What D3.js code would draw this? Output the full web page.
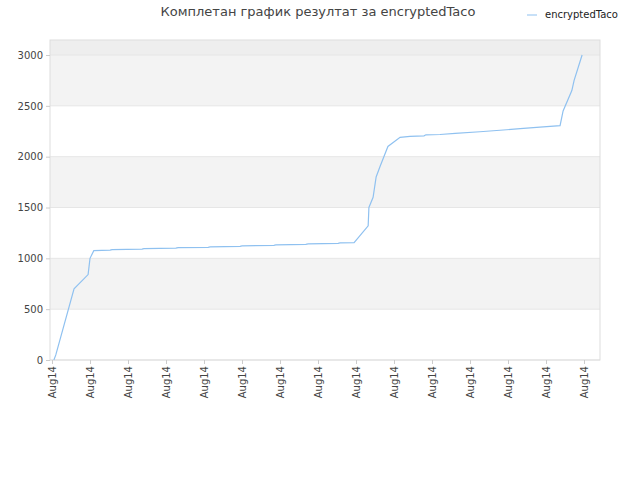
<!DOCTYPE html><html><head><meta charset="utf-8"><script src="https://d3js.org/d3.v7.min.js"></script>
<style>body{margin:0;background:#fff}</style></head><body><script>
const title="Комплетан график резултат за encryptedTaco";
const seriesName="encryptedTaco";
const tickLabels=Array(15).fill("Aug14");
const xs=[0.05,0.1,0.58,0.95,1.0,1.1,1.53,1.58,2.37,2.42,3.26,3.32,4.11,4.16,4.95,5.0,5.84,5.89,6.68,6.74,7.53,7.58,7.95,8.32,8.34,8.45,8.53,8.63,8.84,9.16,9.42,9.79,9.84,10.21,10.61,11.26,11.79,12.32,12.84,13.37,13.45,13.68,13.74,13.95];
const ys=[0,50,700,840,1000,1075,1080,1085,1090,1095,1100,1105,1108,1112,1118,1122,1128,1132,1138,1142,1148,1152,1155,1320,1500,1600,1800,1900,2100,2190,2200,2205,2215,2218,2230,2245,2260,2275,2290,2305,2450,2650,2750,3000];
const W=640,H=480,L=50,R=600,T=40,B=360;
const svg=d3.select("body").append("svg").attr("width",W).attr("height",H).style("font-family","DejaVu Sans, sans-serif");
const x=d3.scaleLinear().domain([0,14]).range([52,584]);
const y=d3.scaleLinear().domain([0,3000]).range([B,55]);
const yTop=y.invert(T);
const bands=[[0,500,"#fff"],[500,1000,"#f3f3f3"],[1000,1500,"#fff"],[1500,2000,"#f3f3f3"],[2000,2500,"#fff"],[2500,3000,"#f3f3f3"],[3000,yTop,"#eeeeee"]];
bands.forEach(b=>svg.append("rect").attr("x",L).attr("width",R-L).attr("y",y(b[1])).attr("height",y(b[0])-y(b[1])).attr("fill",b[2]));
[0,500,1000,1500,2000,2500,3000].forEach(v=>svg.append("line").attr("x1",L).attr("x2",R).attr("y1",y(v)).attr("y2",y(v)).attr("stroke","#e6e6e6"));
svg.append("rect").attr("x",L).attr("y",T).attr("width",R-L).attr("height",B-T).attr("fill","none").attr("stroke","#ddd");
const ya=svg.append("g").attr("transform",`translate(${L},0)`).call(d3.axisLeft(y).tickValues([0,500,1000,1500,2000,2500,3000]).tickSize(4).tickFormat(d3.format("d")));
ya.select(".domain").remove();ya.selectAll("line").attr("stroke","#ccc");
ya.selectAll("text").attr("font-size",10).attr("fill","#444").attr("font-family","DejaVu Sans, sans-serif");
const xa=svg.append("g").attr("transform",`translate(0,${B})`).call(d3.axisBottom(x).tickValues(d3.range(15)).tickSize(4).tickFormat(i=>tickLabels[i]));
xa.select(".domain").remove();xa.selectAll("line").attr("stroke","#ccc");
xa.selectAll("text").attr("font-size",10).attr("fill","#444").attr("font-family","DejaVu Sans, sans-serif")
 .attr("transform","rotate(-90)").attr("text-anchor","end").attr("dx","0").attr("dy","0.3em").attr("x",-6).attr("y",0);
const pts=xs.map((v,i)=>[v,ys[i]]);
svg.append("path").datum(pts).attr("d",d3.line().x(d=>x(d[0])).y(d=>y(d[1]))).attr("fill","none").attr("stroke","#8fc1f0").attr("stroke-width",1.2);
svg.append("text").attr("x",318).attr("y",16).attr("text-anchor","middle").attr("font-size",13).attr("fill","#444").text(title);
svg.append("line").attr("x1",527).attr("x2",537).attr("y1",15).attr("y2",15).attr("stroke","#8fc1f0");
svg.append("text").attr("x",545).attr("y",18).attr("font-size",10).attr("fill","#222").text(seriesName);
</script></body></html>
